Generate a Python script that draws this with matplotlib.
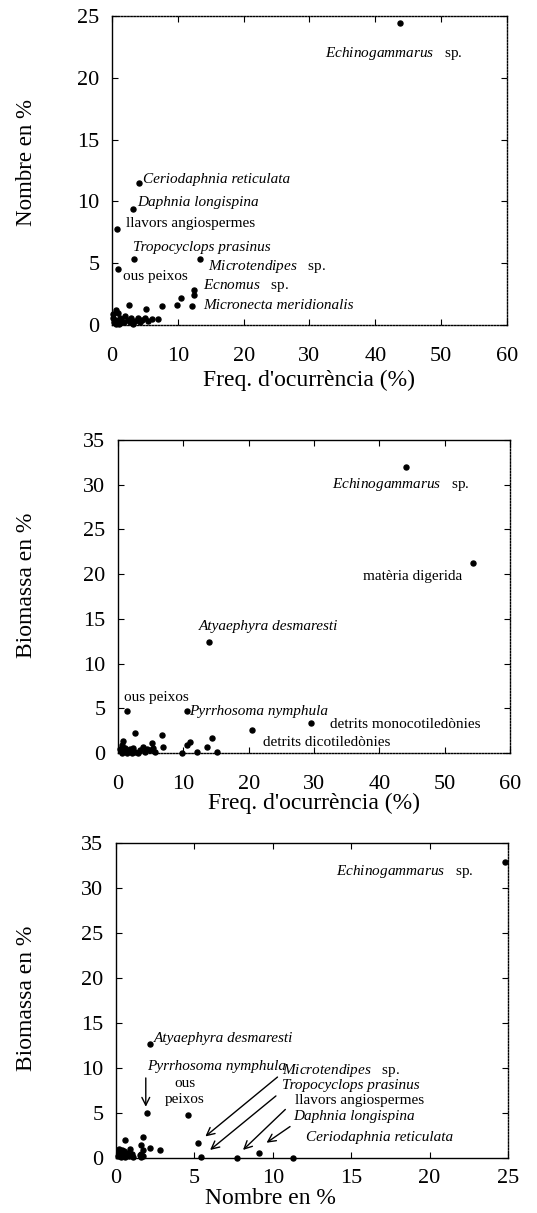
import matplotlib
matplotlib.use('Agg')
import matplotlib.pyplot as plt

plt.rcParams['font.family'] = ['Liberation Serif', 'DejaVu Serif']
plt.rcParams['mathtext.fontset'] = 'custom'
plt.rcParams['mathtext.rm'] = 'Liberation Serif'
plt.rcParams['mathtext.it'] = 'Liberation Serif:italic'

# ── Data: panel 1 (freq. d'ocurrencia vs nombre) ─────────────────
freq1 = [43.8, 4.1, 3.2, 0.8, 3.3, 13.4, 0.9, 12.5, 12.5,
         2.6, 5.2, 7.6, 9.9, 10.5, 12.2,
         0.9, 1.2, 1.5, 2.0, 2.4, 2.9, 3.5, 4.0, 4.6, 5.0, 5.5, 6.1, 7.0,
         0.6, 0.3, 0.2, 0.6, 1.0, 1.8, 2.7, 0.4, 0.8, 1.3, 0.2, 3.2, 4.2]
nombre1 = [24.4, 11.5, 9.4, 7.8, 5.3, 5.3, 4.5, 2.8, 2.4,
           1.6, 1.3, 1.5, 1.6, 2.2, 1.5,
           1.0, 0.6, 0.2, 0.7, 0.4, 0.6, 0.3, 0.6, 0.4, 0.6, 0.3, 0.5, 0.5,
           1.2, 0.2, 0.6, 0.1, 0.1, 0.2, 0.2, 0.4, 0.3, 0.4, 0.9, 0.1, 0.2]

# ── Data: panel 2 (freq. d'ocurrencia vs biomassa) ───────────────
freq2 = [44.1, 54.4, 13.9, 1.4, 10.5, 29.6, 20.5,
         2.6, 6.7, 5.2, 0.8, 6.9, 11.0, 10.6, 9.8, 12.1, 13.6, 14.4, 15.1,
         0.6, 1.1, 1.8, 2.6, 3.4, 4.1, 4.9, 5.7, 3.8, 1.4, 0.6, 2.1, 3.1,
         0.3, 1.0, 2.3, 0.4, 4.5, 5.3]
biom2 = [32.0, 21.3, 12.4, 4.7, 4.7, 3.4, 2.6,
         2.2, 2.0, 1.1, 1.4, 0.7, 1.2, 0.9, 0.0, 0.1, 0.7, 1.7, 0.1,
         0.9, 0.3, 0.4, 0.1, 0.3, 0.1, 0.3, 0.1, 0.7, 0.0, 0.0, 0.0, 0.0,
         0.5, 0.6, 0.6, 0.2, 0.5, 0.6]

# ── Data: panel 3 (nombre vs biomassa) ───────────────────────────
nombre3 = [24.8, 2.2, 2.0, 4.6, 5.2, 5.4, 7.7, 9.1, 11.3,
           0.6, 1.7, 1.6, 2.2, 2.8,
           0.1, 0.2, 0.3, 0.4, 0.5, 0.6, 0.7, 0.8, 0.9, 1.0, 1.1, 0.2, 0.5, 0.3,
           1.6, 1.6, 1.7, 1.5, 1.7]
biom3 = [32.9, 12.7, 5.0, 4.8, 1.7, 0.1, 0.0, 0.6, 0.0,
         2.0, 2.3, 1.4, 1.1, 0.9,
         0.2, 0.6, 0.1, 0.9, 0.4, 0.1, 0.6, 0.2, 1.0, 0.4, 0.1, 1.0, 0.8, 0.4,
         0.1, 0.5, 0.9, 0.3, 0.2]

LAB = 11     # annotation size
TICK = 16
AXL = 17


def style_axes(ax, dotted, xpad):
    for side in ['left', 'right', 'top', 'bottom']:
        sp = ax.spines[side]
        sp.set_linewidth(1.0)
        if side in dotted:
            sp.set_linestyle((0, (1, 1.2)))
    ax.tick_params(direction='in', length=4, width=0.8, top=True, right=True,
                   labelsize=TICK)
    ax.tick_params(axis='x', pad=xpad)
    ax.tick_params(axis='y', pad=9)


def name(ax, x, y, txt, italic=True, size=LAB):
    ax.text(x, y, txt, fontsize=size, style='italic' if italic else 'normal',
            va='center', ha='left')


def name_sp(ax, x, y, genus, size=LAB):
    ax.text(x, y, r'$\mathit{' + genus + r'}$   sp.', fontsize=size,
            va='center', ha='left')


fig = plt.figure(figsize=(5.37, 12.13), dpi=100)
H = 1213.0
W = 537.0

# ── Panel 1 ──────────────────────────────────────────────────────
ax1 = fig.add_axes([0.2086, 0.7321, 0.7355, 0.2547])
ax1.plot(freq1, nombre1, 'o', color='black', ms=3.6, clip_on=False)
ax1.set_xlim(0, 60)
ax1.set_ylim(0, 25)
ax1.set_xticks(range(0, 61, 10))
ax1.set_yticks(range(0, 26, 5))
style_axes(ax1, ['top', 'right', 'bottom'], 16)
name_sp(ax1, 32.4, 22.0, 'Echinogammarus')
name(ax1, 4.7, 11.8, 'Ceriodaphnia reticulata')
name(ax1, 3.8, 9.9, 'Daphnia longispina')
name(ax1, 2.1, 8.2, 'llavors angiospermes', italic=False)
name(ax1, 3.2, 6.3, 'Tropocyclops prasinus')
name_sp(ax1, 14.6, 4.7, 'Microtendipes')
name(ax1, 1.7, 3.9, 'ous peixos', italic=False)
name_sp(ax1, 13.8, 3.2, 'Ecnomus')
name(ax1, 13.8, 1.6, 'Micronecta meridionalis')
fig.text(309 / W, 1 - 380 / H, "Freq. d'ocurrència (%)", fontsize=AXL,
         ha='center', va='center')
fig.text(27 / W, 1 - 163 / H, 'Nombre en %', fontsize=AXL - 0.5, rotation=90,
         ha='center', va='center')

# ── Panel 2 ──────────────────────────────────────────────────────
ax2 = fig.add_axes([0.2197, 0.3792, 0.7300, 0.2581])
ax2.plot(freq2, biom2, 'o', color='black', ms=3.6, clip_on=False)
ax2.set_xlim(0, 60)
ax2.set_ylim(0, 35)
ax2.set_xticks(range(0, 61, 10))
ax2.set_yticks(range(0, 36, 5))
style_axes(ax2, ['right', 'bottom'], 16)
name_sp(ax2, 32.8, 30.0, 'Echinogammarus')
name(ax2, 37.5, 19.7, 'matèria digerida', italic=False)
name(ax2, 12.4, 14.1, 'Atyaephyra desmaresti')
name(ax2, 0.9, 6.2, 'ous peixos', italic=False)
name(ax2, 10.9, 4.6, 'Pyrrhosoma nymphula')
name(ax2, 32.5, 3.2, 'detrits monocotiledònies', italic=False)
name(ax2, 22.2, 1.2, 'detrits dicotiledònies', italic=False)
fig.text(314 / W, 1 - 803 / H, "Freq. d'ocurrència (%)", fontsize=AXL,
         ha='center', va='center')
fig.text(27 / W, 1 - 585 / H, 'Biomassa en %', fontsize=AXL, rotation=90,
         ha='center', va='center')

# ── Panel 3 ──────────────────────────────────────────────────────
ax3 = fig.add_axes([0.2160, 0.0453, 0.7300, 0.2597])
ax3.plot(nombre3, biom3, 'o', color='black', ms=3.6, clip_on=False)
ax3.set_xlim(0, 25)
ax3.set_ylim(0, 35)
ax3.set_xticks(range(0, 26, 5))
ax3.set_yticks(range(0, 36, 5))
style_axes(ax3, ['right'], 8)
name_sp(ax3, 14.0, 31.8, 'Echinogammarus')
name(ax3, 2.4, 13.3, 'Atyaephyra desmaresti')
name(ax3, 2.0, 10.2, 'Pyrrhosoma nymphula')
ax3.text(4.4, 8.3, 'ous', fontsize=LAB, ha='center', va='center')
ax3.text(4.4, 6.5, 'peixos', fontsize=LAB, ha='center', va='center')
name_sp(ax3, 10.6, 9.7, 'Microtendipes')
name(ax3, 10.6, 8.1, 'Tropocyclops prasinus')
name(ax3, 11.4, 6.4, 'llavors angiospermes', italic=False)
name(ax3, 11.3, 4.6, 'Daphnia longispina')
name(ax3, 12.1, 2.3, 'Ceriodaphnia reticulata')

arrows = [((1.9, 8.9), (1.9, 5.7)),
          ((10.3, 9.0), (5.7, 2.4)),
          ((10.2, 6.9), (6.0, 0.9)),
          ((10.8, 5.4), (8.1, 0.9)),
          ((11.1, 3.5), (9.6, 1.7))]
for start, end in arrows:
    ax3.annotate('', xy=end, xytext=start,
                 arrowprops=dict(arrowstyle='->', color='black', lw=1.0,
                                 mutation_scale=14, shrinkA=0, shrinkB=0))

fig.text(270 / W, 1 - 1198 / H, 'Nombre en %', fontsize=AXL,
         ha='center', va='center')
fig.text(27 / W, 1 - 998 / H, 'Biomassa en %', fontsize=AXL, rotation=90,
         ha='center', va='center')

fig.savefig('out.png', dpi=100)
